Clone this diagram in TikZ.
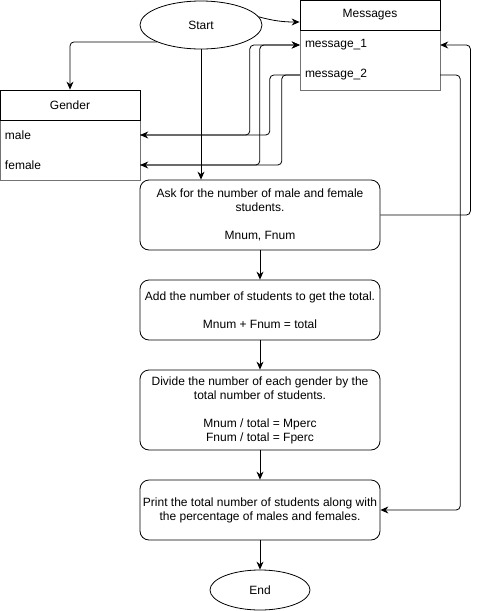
\documentclass[tikz,border=0pt]{standalone}
\usepackage{fontspec}
\setmainfont{Liberation Sans}
\usetikzlibrary{shapes.geometric,arrows.meta}
\begin{document}
\begin{tikzpicture}[x=1pt,y=-1pt,
  every node/.style={font=\fontsize{12}{14}\selectfont},
  conn/.style={line width=0.8pt, rounded corners=4pt},
  arr/.style={conn, -{Stealth[length=8pt,width=7pt]}},
  oval/.style={ellipse, draw, line width=0.8pt, inner sep=0pt},
  stepbox/.style={draw, line width=0.8pt, rounded corners=9pt, minimum width=240, align=center, inner sep=0pt},
  hdr/.style={draw, line width=0.8pt, minimum width=140, minimum height=30, inner sep=0pt},
  row/.style={minimum width=140, minimum height=30, inner sep=0pt, text width=130, align=left}
]
\useasboundingbox (0,0) rectangle (480,611);
% Start / End
\node[oval, minimum width=122, minimum height=48] (start) at (201,25) {Start};
\node[oval, minimum width=100, minimum height=40] (end) at (260,590) {End};
% Messages
\draw[black!55, line width=0.8pt] (300,30) rectangle (440,90);
\node[hdr] (mh) at (370,15) {Messages};
\node[row] (m1) at (370,45) {message\_1};
\node[row] (m2) at (370,75) {message\_2};
% Gender
\draw[black!55, line width=0.8pt] (0,120) rectangle (140,180);
\node[hdr] (gh) at (70,105) {Gender};
\node[row] (male) at (70,135) {male};
\node[row] (female) at (70,165) {female};
% Steps
\node[stepbox, minimum height=70] (b1) at (260,215) {Ask for the number of male and female\\students.\\\mbox{}\\Mnum, Fnum};
\node[stepbox, minimum height=60] (b2) at (260,310) {Add the number of students to get the total.\\\mbox{}\\Mnum + Fnum = total};
\node[stepbox, minimum height=80] (b3) at (260,410) {Divide the number of each gender by the\\total number of students.\\\mbox{}\\Mnum / total = Mperc\\Fnum / total = Fperc};
\node[stepbox, minimum height=60] (b4) at (260,510) {Print the total number of students along with\\the percentage of males and females.};
% Connectors
\draw[arr] (start.8) to[out=-15,in=180] ([yshift=-7pt]mh.west);
\draw[arr] (start.201) -| (gh.north);
\draw[arr] (start.south) -- (start.south |- b1.north);
\draw[arr] (male.east) -| ([xshift=-50pt]m1.west) -- (m1.west);
\draw[arr] (female.east) -| ([xshift=-40pt]m1.west) -- (m1.west);
\draw[arr] (m2.west) -- ([xshift=-30pt]m2.west) |- (male.east);
\draw[arr] (m2.west) -- ([xshift=-18pt]m2.west) |- (female.east);
\draw[arr] (b1.east) -- ([xshift=90pt]b1.east) |- (m1.east);
\draw[arr] (m2.east) -- ([xshift=20pt]m2.east) |- (b4.east);
\draw[arr] (b1.south) -- (b2.north);
\draw[arr] (b2.south) -- (b3.north);
\draw[arr] (b3.south) -- (b4.north);
\draw[arr] (b4.south) -- (end.north);
\end{tikzpicture}
\end{document}
